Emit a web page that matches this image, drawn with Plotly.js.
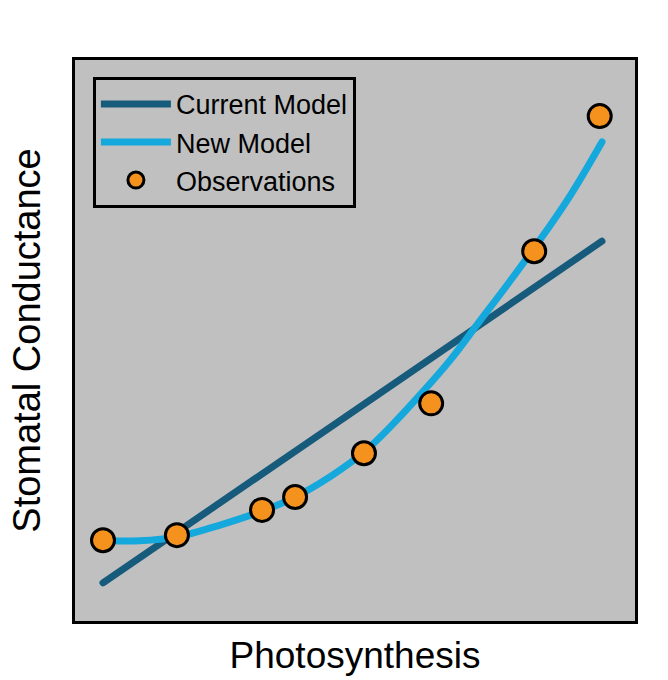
<!DOCTYPE html>
<html>
<head>
<meta charset="utf-8">
<script src="https://cdn.plot.ly/plotly-3.0.1.min.js"></script>
<style>
html,body{margin:0;padding:0;background:#fff;}
path.js-line{stroke-linecap:round;}
.legend path.js-line{stroke-linecap:butt;}
</style>
</head>
<body>
<div id="chart" style="width:668px;height:680px;"></div>
<script>
// Observations
const obsX = [0.50, 1.82, 3.34, 3.93, 5.16, 6.36, 8.20, 9.37];
const obsY = [1.44, 1.53, 1.98, 2.21, 2.99, 3.88, 6.59, 9.00];
// Current model (linear)
const curX = [0.50, 9.41];
const curY = [0.68, 6.77];
// New model (curve samples)
const newX = [0.50, 1.16, 1.82, 2.59, 3.34, 3.93, 4.55, 5.16, 5.63, 6.16, 6.70, 7.23, 7.77, 8.30, 8.84, 9.41];
const newY = [1.43, 1.43, 1.50, 1.71, 1.96, 2.21, 2.57, 3.01, 3.46, 4.03, 4.65, 5.35, 6.06, 6.79, 7.58, 8.54];

const traces = [
  {x: curX, y: curY, mode: 'lines', name: 'Current Model',
   line: {color: '#175b7c', width: 7}},
  {x: newX, y: newY, mode: 'lines', name: 'New Model',
   line: {color: '#14a8dc', width: 7, shape: 'spline', smoothing: 1}},
  {x: obsX, y: obsY, mode: 'markers', name: 'Observations',
   marker: {color: '#f5921e', size: 23, line: {color: '#000', width: 3}}}
];

const axisCommon = {
  range: [0, 10], showgrid: false, zeroline: false, showticklabels: false,
  ticks: '', showline: true, mirror: true, linecolor: '#000', linewidth: 3,
  fixedrange: true
};

const layout = {
  width: 668, height: 680,
  margin: {l: 75, r: 33, t: 60, b: 59},
  paper_bgcolor: '#ffffff',
  plot_bgcolor: '#c0c0c0',
  font: {family: 'Liberation Sans, Arial, sans-serif', color: '#000'},
  showlegend: true,
  legend: {
    x: 0.032, y: 0.97, xanchor: 'left', yanchor: 'top',
    bgcolor: 'rgba(0,0,0,0)', bordercolor: '#000', borderwidth: 3,
    font: {size: 27, color: '#000'}, itemwidth: 70, tracegroupgap: 0
  },
  xaxis: Object.assign({}, axisCommon, {
    title: {text: 'Photosynthesis', font: {size: 37}, standoff: 20}
  }),
  yaxis: Object.assign({}, axisCommon, {
    title: {text: 'Stomatal Conductance', font: {size: 38}, standoff: 20}
  })
};

Plotly.newPlot('chart', traces, layout, {displayModeBar: false, staticPlot: true});
</script>
</body>
</html>
